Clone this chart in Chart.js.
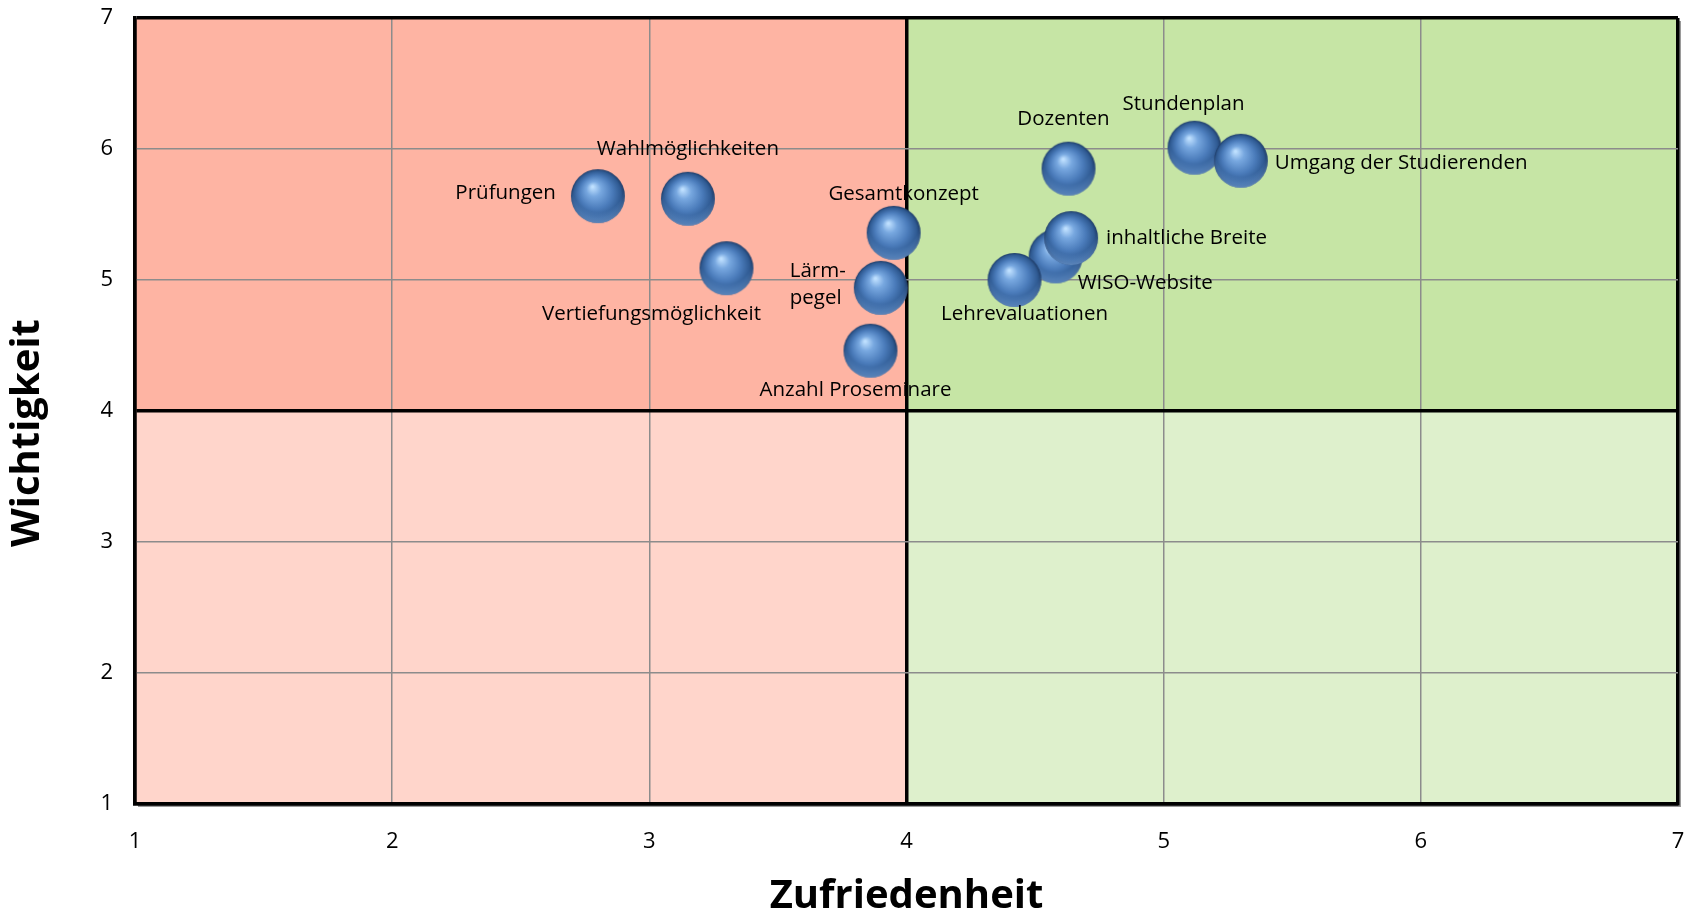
<!DOCTYPE html>
<html lang="de">
<head>
    <meta charset="UTF-8">
    <title>Zufriedenheit und Wichtigkeit</title>
    <script src="https://cdn.jsdelivr.net/npm/chart.js@4.4.0/dist/chart.umd.min.js"></script>
    <style>
        html, body {
            margin: 0;
            padding: 0;
            background: #fff;
        }
        #wrap {
            width: 1689px;
            height: 917px;
        }
    </style>
</head>
<body>
<div id="wrap"><canvas id="chart"></canvas></div>
<script>
    // Werte
    const themen = ['Prüfungen', 'Wahlmöglichkeiten', 'Vertiefungsmöglichkeit', 'Gesamtkonzept',
        'Lärm-\npegel', 'Anzahl Proseminare', 'Dozenten', 'Stundenplan', 'Umgang der Studierenden',
        'WISO-Website', 'inhaltliche Breite', 'Lehrevaluationen'];
    const zufriedenheit = [2.80, 3.15, 3.30, 3.95, 3.90, 3.86, 4.63, 5.12, 5.30, 4.58, 4.64, 4.42];
    const wichtigkeit = [5.64, 5.62, 5.09, 5.36, 4.94, 4.46, 5.85, 6.01, 5.91, 5.18, 5.32, 5.00];
    const achsenTicks = [1, 2, 3, 4, 5, 6, 7];
    const mitte = 4;

    // Position der Beschriftung relativ zur Kugel: [dx, dy, Ausrichtung]
    const lagen = [
        [-42, -3, 'right'], [0, -50, 'center'], [-75, 46, 'center'], [10, -39, 'center'],
        [-91, -17, 'left'], [-15, 39, 'center'], [-5, -49, 'center'], [-11, -44, 'center'],
        [34, 2, 'left'], [22, 27, 'left'], [35, 0, 'left'], [10, 34, 'center']
    ];

    function kugel(r) {
        const c = document.createElement('canvas');
        c.width = c.height = 2 * r + 2;
        const g = c.getContext('2d');
        const m = r + 1;
        g.beginPath();
        g.arc(m, m, r, 0, Math.PI * 2);
        g.clip();
        const grad = g.createRadialGradient(m - r * 0.2, m - r * 0.35, r * 0.03, m, m, r);
        grad.addColorStop(0, '#bfe0ff');
        grad.addColorStop(0.25, '#78a8e0');
        grad.addColorStop(0.6, '#4b7cbb');
        grad.addColorStop(0.88, '#2f5a92');
        grad.addColorStop(1, '#1e3b66');
        g.fillStyle = grad;
        g.fillRect(0, 0, c.width, c.height);
        const rand = g.createRadialGradient(m, m - r * 0.35, r * 0.95, m, m - r * 0.35, r * 1.4);
        rand.addColorStop(0, 'rgba(130,180,240,0)');
        rand.addColorStop(1, 'rgba(130,180,240,0.7)');
        g.fillStyle = rand;
        g.fillRect(0, 0, c.width, c.height);
        return c;
    }

    const quadranten = {
        id: 'quadranten',
        beforeDraw(chart) {
            const {ctx, chartArea: a, scales: {x, y}} = chart;
            const xm = x.getPixelForValue(mitte);
            const ym = y.getPixelForValue(mitte);
            ctx.save();
            ctx.fillStyle = '#9a9a9a';
            ctx.fillRect(a.left + 3, a.top + 3, a.right - a.left, a.bottom - a.top);
            ctx.fillStyle = '#feb4a3';
            ctx.fillRect(a.left, a.top, xm - a.left, ym - a.top);
            ctx.fillStyle = '#ffd5cb';
            ctx.fillRect(a.left, ym, xm - a.left, a.bottom - ym);
            ctx.fillStyle = '#c6e5a5';
            ctx.fillRect(xm, a.top, a.right - xm, ym - a.top);
            ctx.fillStyle = '#def0cc';
            ctx.fillRect(xm, ym, a.right - xm, a.bottom - ym);
            ctx.restore();
        }
    };

    const beschriftung = {
        id: 'beschriftung',
        afterDatasetsDraw(chart, args, opts) {
            const ctx = chart.ctx;
            const meta = chart.getDatasetMeta(0);
            ctx.save();
            ctx.font = opts.font;
            ctx.fillStyle = '#000';
            ctx.textBaseline = 'middle';
            meta.data.forEach((pt, i) => {
                const [dx, dy, align] = lagen[i];
                ctx.textAlign = align;
                themen[i].split('\n').forEach((zeile, j) => {
                    ctx.fillText(zeile, pt.x + dx, pt.y + dy + j * opts.zeilenhoehe);
                });
            });
            ctx.restore();
        },
        afterDraw(chart, args, opts) {
            // y-Achsentitel, etwas unter der Mitte wie im Original
            const {ctx, chartArea: a} = chart;
            ctx.save();
            ctx.translate(opts.titelX, (a.top + a.bottom) / 2 + opts.titelVersatz);
            ctx.rotate(-Math.PI / 2);
            ctx.font = 'bold 40px "Open Sans", sans-serif';
            ctx.fillStyle = '#000';
            ctx.textAlign = 'center';
            ctx.textBaseline = 'middle';
            ctx.fillText('Wichtigkeit', 0, 0);
            ctx.restore();
        }
    };

    function gitterFarbe(c) {
        const v = c.tick && c.tick.value;
        return (v === 1 || v === mitte || v === 7) ? '#000' : '#8c8c8c';
    }
    function gitterBreite(c) {
        const v = c.tick && c.tick.value;
        return (v === 1 || v === mitte || v === 7) ? 3.5 : 1.5;
    }

    const tickFont = {family: '"Open Sans", sans-serif', size: 22};
    const titelFont = {family: '"Open Sans", sans-serif', size: 40, weight: 'bold', lineHeight: 1};

    new Chart(document.getElementById('chart'), {
        type: 'scatter',
        data: {
            datasets: [{
                label: 'Themen',
                data: themen.map((t, i) => ({x: zufriedenheit[i], y: wichtigkeit[i]})),
                pointStyle: kugel(27),
                pointRadius: 27,
                pointHoverRadius: 27
            }]
        },
        options: {
            responsive: true,
            maintainAspectRatio: false,
            animation: false,
            layout: {autoPadding: false, padding: {top: 18, right: 11, left: 0, bottom: 0}},
            plugins: {
                legend: {display: false},
                tooltip: {enabled: false},
                beschriftung: {font: '20.5px "Open Sans", sans-serif', zeilenhoehe: 27, titelX: 28, titelVersatz: 22}
            },
            scales: {
                x: {
                    type: 'linear',
                    min: 1,
                    max: 7,
                    afterBuildTicks: s => { s.ticks = achsenTicks.map(v => ({value: v})); },
                    afterFit: s => {
                        s.height = 113;
                        s.paddingLeft = s.paddingRight = 0;
                    },
                    grid: {color: gitterFarbe, lineWidth: gitterBreite, drawTicks: false},
                    border: {display: true, color: '#000', width: 3.5},
                    ticks: {color: '#000', font: tickFont, padding: 25, maxRotation: 0},
                    title: {display: true, text: 'Zufriedenheit', color: '#000', font: titelFont, padding: 0}
                },
                y: {
                    type: 'linear',
                    min: 1,
                    max: 7,
                    afterBuildTicks: s => { s.ticks = achsenTicks.map(v => ({value: v})); },
                    afterFit: s => {
                        s.width = 135;
                        s.paddingTop = s.paddingBottom = 0;
                    },
                    grid: {color: gitterFarbe, lineWidth: gitterBreite, drawTicks: false},
                    border: {display: true, color: '#000', width: 3.5},
                    ticks: {color: '#000', font: tickFont, padding: 22}
                }
            }
        },
        plugins: [quadranten, beschriftung]
    });
</script>
</body>
</html>
